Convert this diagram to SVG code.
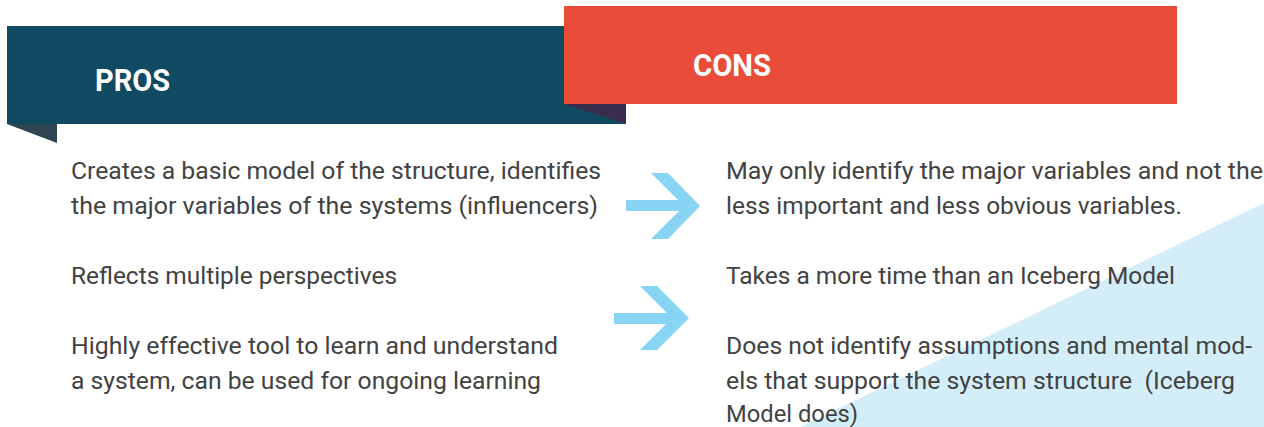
<svg xmlns="http://www.w3.org/2000/svg" width="1264" height="427" viewBox="0 0 1264 427">
  <defs>
    <style>
      .body { font-family: Roboto, "Liberation Sans", sans-serif; font-size: 23px; font-weight: 400; fill: #424242; }
      .head { font-family: Roboto, "Liberation Sans", sans-serif; font-size: 32px; font-weight: 700; fill: #ffffff; }
      .arrow { fill: #87d4f5; }
    </style>
  </defs>
  <rect width="1264" height="427" fill="#ffffff"/>
  <polygon points="1264,203 1264,427 800,427" fill="#d4eef9"/>

  <g id="pros-banner">
    <rect x="7" y="26" width="619" height="98" fill="#114a63"/>
    <polygon points="7,124 57,124 57,143" fill="#2e4450"/>
    <text class="head" x="95" y="91" textLength="75" lengthAdjust="spacingAndGlyphs">PROS</text>
  </g>

  <g id="cons-banner">
    <polygon points="564,104 626,104 626,124" fill="#3a2e4e"/>
    <rect x="564" y="6" width="613" height="98" fill="#ea4c3a"/>
    <text class="head" x="693" y="76" textLength="78" lengthAdjust="spacingAndGlyphs">CONS</text>
  </g>

  <g id="pros-text">
    <text class="body" x="71" y="179" textLength="530" lengthAdjust="spacingAndGlyphs">Creates a basic model of the structure, identifies</text>
    <text class="body" x="71" y="214" textLength="527" lengthAdjust="spacingAndGlyphs">the major variables of the systems (influencers)</text>
    <text class="body" x="71" y="284" textLength="326" lengthAdjust="spacingAndGlyphs">Reflects multiple perspectives</text>
    <text class="body" x="71" y="354" textLength="487" lengthAdjust="spacingAndGlyphs">Highly effective tool to learn and understand</text>
    <text class="body" x="71" y="389" textLength="470" lengthAdjust="spacingAndGlyphs">a system, can be used for ongoing learning</text>
  </g>

  <g id="cons-text">
    <text class="body" x="726" y="179" textLength="537" lengthAdjust="spacingAndGlyphs">May only identify the major variables and not the</text>
    <text class="body" x="726" y="214" textLength="456" lengthAdjust="spacingAndGlyphs">less important and less obvious variables.</text>
    <text class="body" x="726" y="284" textLength="449" lengthAdjust="spacingAndGlyphs">Takes a more time than an Iceberg Model</text>
    <text class="body" x="726" y="354" textLength="526" lengthAdjust="spacingAndGlyphs">Does not identify assumptions and mental mod-</text>
    <text class="body" x="726" y="389" textLength="509" lengthAdjust="spacingAndGlyphs" xml:space="preserve">els that support the system structure  (Iceberg</text>
    <text class="body" x="726" y="422" textLength="132" lengthAdjust="spacingAndGlyphs">Model does)</text>
  </g>

  <g id="connectors">
    <g id="arrow1" class="arrow">
      <rect x="626" y="200" width="62" height="11"/>
      <polygon points="651,173 668,173 700,206 668,239 651,239 684,206"/>
    </g>
    <g id="arrow2" class="arrow">
      <rect x="614" y="313" width="62" height="11"/>
      <polygon points="640,286 657,286 689,318 657,350 640,350 672,318"/>
    </g>
  </g>
</svg>
